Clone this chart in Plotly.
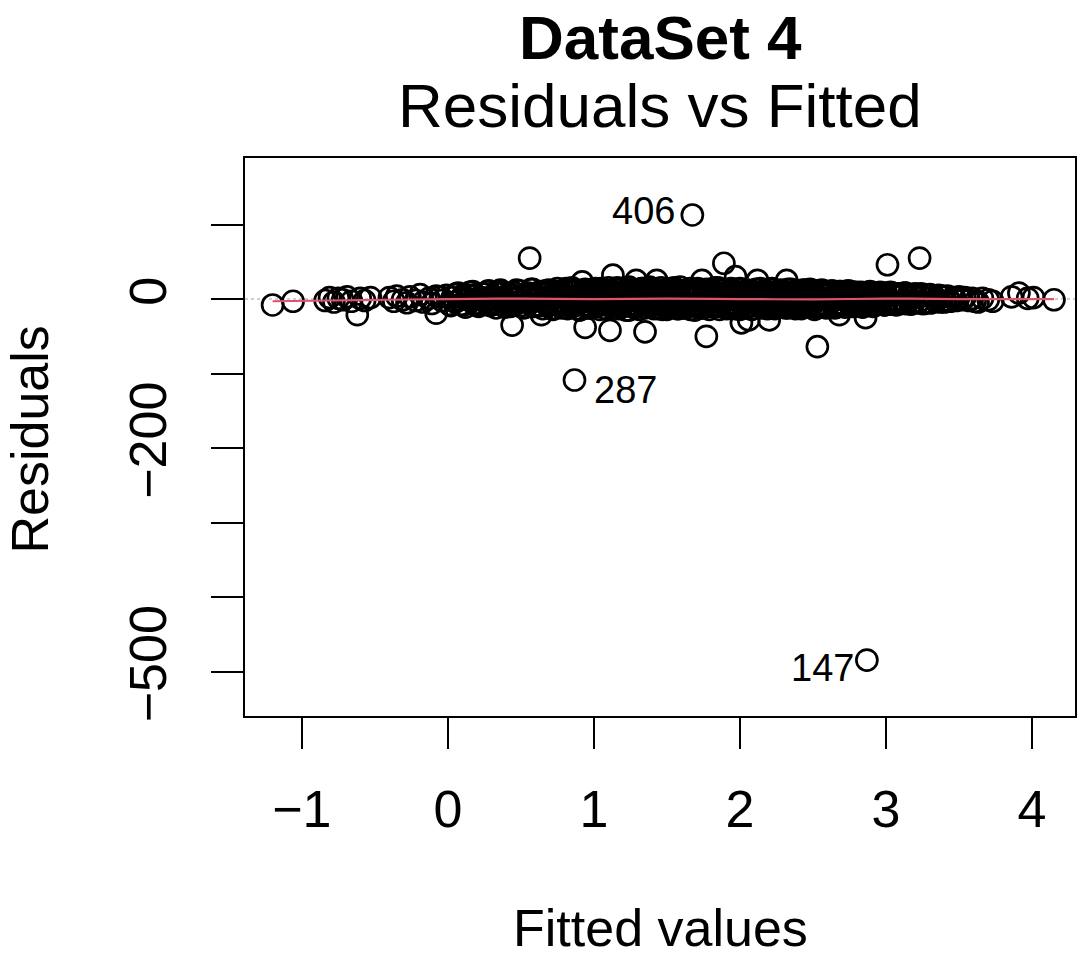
import plotly.graph_objects as go

# ---------------- data ----------------
# sparse points on the far left
fitted_left = [-1.20, -1.06, -0.84, -0.81, -0.78, -0.75, -0.72, -0.69, -0.66, -0.60, -0.57, -0.53]
resid_left = [-8, -3, -2, 2, -4, 1, -1, 3, -3, 1, -2, 2]

# dense central band
fitted_core = [
    -0.40, -0.37, -0.35, -0.31, -0.28, -0.26, -0.22, -0.19, -0.17, -0.13,
    -0.11, -0.08, -0.05, -0.04, -0.01, 0.01, 0.03, 0.05, 0.06, 0.08,
    0.10, 0.11, 0.13, 0.15, 0.16, 0.18, 0.19, 0.21, 0.23, 0.24,
    0.26, 0.27, 0.29, 0.30, 0.32, 0.33, 0.35, 0.36, 0.38, 0.39,
    0.41, 0.42, 0.44, 0.45, 0.46, 0.48, 0.49, 0.51, 0.52, 0.53,
    0.55, 0.56, 0.57, 0.59, 0.60, 0.61, 0.63, 0.64, 0.65, 0.67,
    0.68, 0.69, 0.70, 0.72, 0.73, 0.74, 0.75, 0.77, 0.78, 0.79,
    0.80, 0.82, 0.83, 0.84, 0.85, 0.86, 0.88, 0.89, 0.90, 0.91,
    0.92, 0.94, 0.95, 0.96, 0.97, 0.98, 1.00, 1.01, 1.02, 1.03,
    1.04, 1.05, 1.07, 1.08, 1.09, 1.10, 1.11, 1.12, 1.14, 1.15,
    1.16, 1.17, 1.18, 1.19, 1.21, 1.22, 1.23, 1.24, 1.25, 1.26,
    1.28, 1.29, 1.30, 1.31, 1.32, 1.33, 1.35, 1.36, 1.37, 1.38,
    1.39, 1.40, 1.42, 1.43, 1.44, 1.45, 1.46, 1.47, 1.49, 1.50,
    1.51, 1.52, 1.53, 1.54, 1.56, 1.57, 1.58, 1.59, 1.60, 1.61,
    1.63, 1.64, 1.65, 1.66, 1.67, 1.68, 1.70, 1.71, 1.72, 1.73,
    1.74, 1.75, 1.77, 1.78, 1.79, 1.80, 1.81, 1.82, 1.84, 1.85,
    1.86, 1.87, 1.88, 1.89, 1.91, 1.92, 1.93, 1.94, 1.95, 1.96,
    1.98, 1.99, 2.00, 2.01, 2.02, 2.03, 2.05, 2.06, 2.07, 2.08,
    2.09, 2.10, 2.12, 2.13, 2.14, 2.15, 2.16, 2.17, 2.19, 2.20,
    2.21, 2.22, 2.23, 2.24, 2.26, 2.27, 2.28, 2.29, 2.30, 2.31,
    2.33, 2.34, 2.35, 2.36, 2.37, 2.38, 2.40, 2.41, 2.42, 2.43,
    2.44, 2.45, 2.47, 2.48, 2.49, 2.50, 2.51, 2.52, 2.54, 2.55,
    2.56, 2.57, 2.58, 2.59, 2.61, 2.62, 2.63, 2.64, 2.65, 2.66,
    2.68, 2.69, 2.70, 2.71, 2.72, 2.73, 2.75, 2.76, 2.77, 2.78,
    2.79, 2.80, 2.82, 2.83, 2.84, 2.85, 2.86, 2.87, 2.89, 2.90,
    2.91, 2.92, 2.93, 2.94, 2.96, 2.97, 2.98, 2.99, 3.00, 3.01,
    3.03, 3.04, 3.05, 3.06, 3.07, 3.08, 3.10, 3.11, 3.12, 3.13,
    3.14, 3.15, 3.17, 3.18, 3.19, 3.20, 3.22, 3.23, 3.24, 3.26,
    3.27, 3.28, 3.30, 3.31, 3.33, 3.34, 3.36, 3.37, 3.39, 3.41,
    3.42, 3.44, 3.46, 3.48, 3.50, 3.52, 3.54, 3.57, 3.59, 3.61,
]
resid_core = [
    2, -3, 4, -1, -5, 3, -2, 6, -4, 1,
    -6, 4, 3, -2, 5, -7, 2, -4, 7, -1,
    4, -8, 1, 9, -3, -6, 5, -10, 2, 7,
    -4, 10, -9, 3, -1, 8, -7, 12, -2, -11,
    6, -5, -7, 9, -8, 2, 11, -3, -12, 5,
    8, -6, 13, -10, 3, 4, 10, -2, -13, 7,
    -9, 12, 1, -14, 6, -4, 14, -8, 9, -11,
    4, -13, 11, -6, 15, -10, 2, -5, -15, 8,
    3, 13, -7, 10, -12, 5, -4, 14, -9, 11,
    -14, 6, 12, -8, -3, 15, -6, 9, -11, 4,
    7, -13, 13, -5, 10, -15, 4, 16, -9, 12,
    -12, -3, 8, -14, 5, 14, 9, -7, 11, -10,
    13, -6, 9, -2, -13, 4, 15, -9, 12, -14,
    6, -11, 14, -5, 10, -13, 8, 16, -8, -12,
    11, -7, 13, -14, 5, 9, -10, 14, -6, -3,
    -12, 10, 3, 8, -14, 13, -4, 11, -10, 15,
    -9, 12, 7, -4, -13, 10, -6, 14, -11, 6,
    -8, 13, -14, 4, 9, -5, 12, -3, -10, 11,
    -13, 6, -2, -9, 14, -12, 5, 10, 8, -7,
    13, -11, 8, -13, 11, -6, 12, -10, 9, -4,
    -12, 7, 13, -9, 10, -13, 5, 11, -8, 12,
    -11, 9, -6, 13, -10, 8, -14, 4, 11, -7,
    12, -10, 6, -12, 9, -5, 11, -9, 7, -11,
    5, 10, -8, 6, -11, 9, -5, 10, -9, 7,
    -10, 8, -6, 9, -11, 4, 7, -8, 10, -6,
    8, -9, 6, -7, 9, -5, 8, -8, 5, -4,
    -7, 8, -5, 7, -8, 6, -6, 7, -5, 8,
    -6, 5, -7, 6, -4, 7, -5, -3, 4, -6,
    5, -4, 6, -5, 4, -3, 5, -4, 3, -3,
    4, -3, 2, -2, 3, -1, 2, -2, 1, -3,
]

# second layer of the band, close to zero
fitted_mid = [
    0.20, 0.24, 0.27, 0.31, 0.34, 0.38, 0.41, 0.45, 0.48, 0.52,
    0.55, 0.59, 0.62, 0.66, 0.69, 0.73, 0.76, 0.80, 0.83, 0.87,
    0.90, 0.94, 0.97, 1.01, 1.04, 1.08, 1.11, 1.15, 1.18, 1.22,
    1.25, 1.29, 1.32, 1.36, 1.39, 1.43, 1.46, 1.50, 1.53, 1.57,
    1.60, 1.64, 1.67, 1.71, 1.74, 1.78, 1.81, 1.85, 1.88, 1.92,
    1.95, 1.99, 2.02, 2.06, 2.09, 2.13, 2.16, 2.20, 2.23, 2.27,
    2.30, 2.34, 2.37, 2.41, 2.44, 2.48, 2.51, 2.55, 2.58, 2.62,
    2.65, 2.69, 2.72, 2.76, 2.79, 2.83, 2.86, 2.90, 2.93, 2.97,
]
resid_mid = [
    0, -2, 1, 3, -1, 2, -3, 0, 1, -2,
    3, -1, 0, -4, 2, 1, -2, 4, -1, 0,
    2, -3, 1, 0, -2, 3, -1, 2, 0, -3,
    1, 4, -2, 0, 2, -1, 3, -4, 1, 0,
    -2, 2, 0, 3, -1, -3, 1, 0, -2, 4,
    0, -1, 2, -3, 1, 0, 3, -2, -1, 2,
    -1, 3, 0, -2, 1, 2, -3, 0, 1, -1,
    2, 0, -1, 3, -2, 1, 0, -1, 2, 0,
]

# third layer of the band, towards its edges
fitted_edge = [
    0.02, 0.07, 0.12, 0.17, 0.22, 0.28, 0.33, 0.37, 0.43, 0.47,
    0.53, 0.58, 0.63, 0.67, 0.71, 0.75, 0.78, 0.81, 0.85, 0.88,
    0.91, 0.93, 0.96, 0.99, 1.02, 1.05, 1.08, 1.10, 1.13, 1.16,
    1.19, 1.22, 1.24, 1.27, 1.30, 1.33, 1.35, 1.38, 1.41, 1.44,
    1.47, 1.49, 1.52, 1.55, 1.58, 1.61, 1.63, 1.66, 1.69, 1.72,
    1.75, 1.77, 1.80, 1.83, 1.86, 1.89, 1.91, 1.94, 1.97, 2.00,
    2.03, 2.05, 2.08, 2.11, 2.14, 2.17, 2.19, 2.22, 2.25, 2.28,
    2.31, 2.33, 2.36, 2.39, 2.42, 2.45, 2.47, 2.50, 2.53, 2.56,
    2.59, 2.62, 2.65, 2.68, 2.71, 2.74, 2.77, 2.80, 2.83, 2.87,
    2.91, 2.95, 2.99, 3.03, 3.08, 3.13, 3.18, 3.24, 3.30, 3.38,
]
resid_edge = [
    -9, 8, -11, 10, -7, 11, -12, 9, -10, 12,
    -11, 13, -9, 11, -13, 10, -12, 14, -10, 12,
    -14, 11, -12, 13, -10, 14, -13, 11, -12, 15,
    -11, 13, -15, 12, -10, 14, -12, 16, -13, 11,
    -14, 12, -11, 15, -13, 10, -12, 14, -15, 11,
    -12, 13, -10, 15, -14, 12, -11, 13, -13, 14,
    -12, 11, -14, 13, -10, 12, -13, 14, -11, 10,
    -12, 13, -10, 11, -13, 12, -9, 11, -12, 10,
    -11, 9, -12, 10, -8, 11, -10, 9, -9, 8,
    -10, 7, -8, 9, -7, 8, -6, 7, -5, 4,
]

# fourth layer of the band, between centre and edges
fitted_inner = [
    0.05, 0.09, 0.14, 0.19, 0.25, 0.30, 0.35, 0.40, 0.44, 0.50,
    0.54, 0.60, 0.64, 0.68, 0.72, 0.76, 0.79, 0.82, 0.86, 0.89,
    0.92, 0.95, 0.98, 1.01, 1.03, 1.06, 1.09, 1.12, 1.14, 1.17,
    1.20, 1.23, 1.26, 1.28, 1.31, 1.34, 1.37, 1.40, 1.42, 1.45,
    1.48, 1.51, 1.54, 1.56, 1.59, 1.62, 1.65, 1.68, 1.70, 1.73,
    1.76, 1.79, 1.82, 1.84, 1.87, 1.90, 1.93, 1.96, 1.98, 2.01,
    2.04, 2.07, 2.10, 2.12, 2.15, 2.18, 2.21, 2.24, 2.26, 2.29,
    2.32, 2.35, 2.38, 2.40, 2.43, 2.46, 2.49, 2.52, 2.55, 2.58,
    2.61, 2.64, 2.67, 2.70, 2.73, 2.76, 2.79, 2.82, 2.85, 2.88,
    2.92, 2.96, 3.00, 3.04, 3.09, 3.14, 3.19, 3.25, 3.32, 3.40,
]
resid_inner = [
    6, -7, 5, -8, 7, -6, 8, -7, 6, -9,
    7, -8, 9, -6, 8, -9, 7, -8, 9, -7,
    8, -9, 6, -8, 9, -7, 8, -6, 9, -8,
    7, -9, 8, -7, 9, -6, 8, -9, 7, -8,
    9, -7, 6, -9, 8, -7, 9, -8, 6, -9,
    8, -6, 9, -8, 7, -9, 6, -7, 9, -8,
    7, -9, 8, -6, 9, -7, 8, -9, 6, -8,
    9, -7, 8, -9, 6, -8, 7, -9, 8, -7,
    6, -8, 7, -6, 8, -7, 6, -8, 7, -6,
    5, -7, 6, -5, 7, -6, 5, -6, 4, -4,
]

# sparse points on the far right
fitted_right = [3.63, 3.66, 3.70, 3.73, 3.86, 3.91, 3.97, 4.01, 4.15]
resid_right = [-4, 1, -1, -3, 3, 8, 1, 2, -1]

# distinct outlying circles around the band
fitted_outer = [-0.62, -0.08, 0.44, 0.56, 0.64, 0.92, 0.94, 1.11, 1.13, 1.29,
                1.35, 1.43, 1.74, 1.77, 1.89, 1.97, 2.01, 2.06, 2.12, 2.20,
                2.32, 2.53, 2.68, 2.86, 3.01, 3.23]
resid_outer = [-21, -19, -35, 55, -21, 23, -38, -42, 32, 25,
               -44, 25, 25, -50, 48, 30, -32, -28, 25, -28,
               25, -64, -21, -25, 46, 55]

# labelled extreme observations
labels = ["406", "287", "147"]
fitted_lab = [1.674, 0.867, 2.869]
resid_lab = [112.8, -108.7, -484.6]

# smoother (red line)
smooth_x = [-1.20, -0.80, -0.40, 0.00, 0.50, 1.00, 1.50, 2.00, 2.50, 3.00, 3.50, 4.15]
smooth_y = [-3, -2, -1, 0, 0.5, 0, 0.5, 0, -0.5, 0.5, 0, 0]

x_ticks = [-1, 0, 1, 2, 3, 4]
x_ticktext = ["\u22121", "0", "1", "2", "3", "4"]
y_ticks = [100, 0, -100, -200, -300, -400, -500]
y_ticktext = ["", "0", "", "\u2212200", "", "", "\u2212500"]

FONT = "Liberation Sans, Arial, sans-serif"

fitted = (fitted_left + fitted_core + fitted_mid + fitted_edge + fitted_inner
          + fitted_right + fitted_outer + fitted_lab)
resid = (resid_left + resid_core + resid_mid + resid_edge + resid_inner
         + resid_right + resid_outer + resid_lab)

fig = go.Figure()
fig.add_trace(go.Scatter(
    x=fitted, y=resid, mode="markers",
    marker=dict(symbol="circle-open", size=21, color="black", line=dict(width=2.7, color="black")),
    hoverinfo="skip",
))
fig.add_trace(go.Scatter(
    x=smooth_x, y=smooth_y, mode="lines",
    line=dict(color="#DF536B", width=2.2, shape="spline"),
    hoverinfo="skip",
))

# dotted gray zero line
fig.add_shape(type="line", xref="paper", yref="y", x0=0, x1=1, y0=0, y1=0,
              line=dict(color="#BEBEBE", width=1.5, dash="dot"), layer="below")

# labels of extreme points
lab_pos = [("right", -15, 4), ("left", 18, -10), ("right", -11, -8)]
for t, xv, yv, (anc, xs, ys) in zip(labels, fitted_lab, resid_lab, lab_pos):
    fig.add_annotation(x=xv, y=yv, text=t, showarrow=False, xanchor=anc, yanchor="middle",
                       xshift=xs, yshift=ys, font=dict(family=FONT, size=38, color="black"))

# titles
fig.add_annotation(xref="paper", yref="paper", x=0.5, y=1.2168, text="<b>DataSet 4</b>",
                   showarrow=False, xanchor="center", yanchor="middle",
                   font=dict(family=FONT, size=62, color="black"))
fig.add_annotation(xref="paper", yref="paper", x=0.5, y=1.0935, text="Residuals vs Fitted",
                   showarrow=False, xanchor="center", yanchor="middle",
                   font=dict(family=FONT, size=62, color="black"))
fig.add_annotation(xref="paper", yref="paper", x=0.5, y=-0.380, text="Fitted values",
                   showarrow=False, xanchor="center", yanchor="middle",
                   font=dict(family=FONT, size=52, color="black"))
fig.add_annotation(xref="paper", yref="paper", x=-0.2596, y=0.4946, text="Residuals",
                   showarrow=False, xanchor="center", yanchor="middle", textangle=-90,
                   font=dict(family=FONT, size=52, color="black"))

fig.update_layout(
    width=1086, height=958,
    margin=dict(l=245, r=9, t=158, b=242),
    paper_bgcolor="white", plot_bgcolor="white",
    showlegend=False,
    font=dict(family=FONT, color="black"),
    xaxis=dict(range=[-1.389, 4.294], tickvals=x_ticks, ticktext=x_ticktext,
               ticks="outside", ticklen=31, tickwidth=2, tickcolor="black",
               showline=True, mirror=True, linecolor="black", linewidth=2,
               showgrid=False, zeroline=False, ticklabelstandoff=16,
               tickfont=dict(family=FONT, size=52, color="black")),
    yaxis=dict(range=[-559.7, 189.3], tickvals=y_ticks, ticktext=y_ticktext,
               ticks="outside", ticklen=32, tickwidth=2, tickcolor="black",
               showline=True, mirror=True, linecolor="black", linewidth=2,
               showgrid=False, zeroline=False, tickangle=-90, ticklabelstandoff=24,
               tickfont=dict(family=FONT, size=52, color="black")),
)

# remove the default 8 px page margin so the figure fills the window exactly
fig.write_html("out.html", config={"displayModeBar": False},
               post_script="document.body.style.margin='0';")
